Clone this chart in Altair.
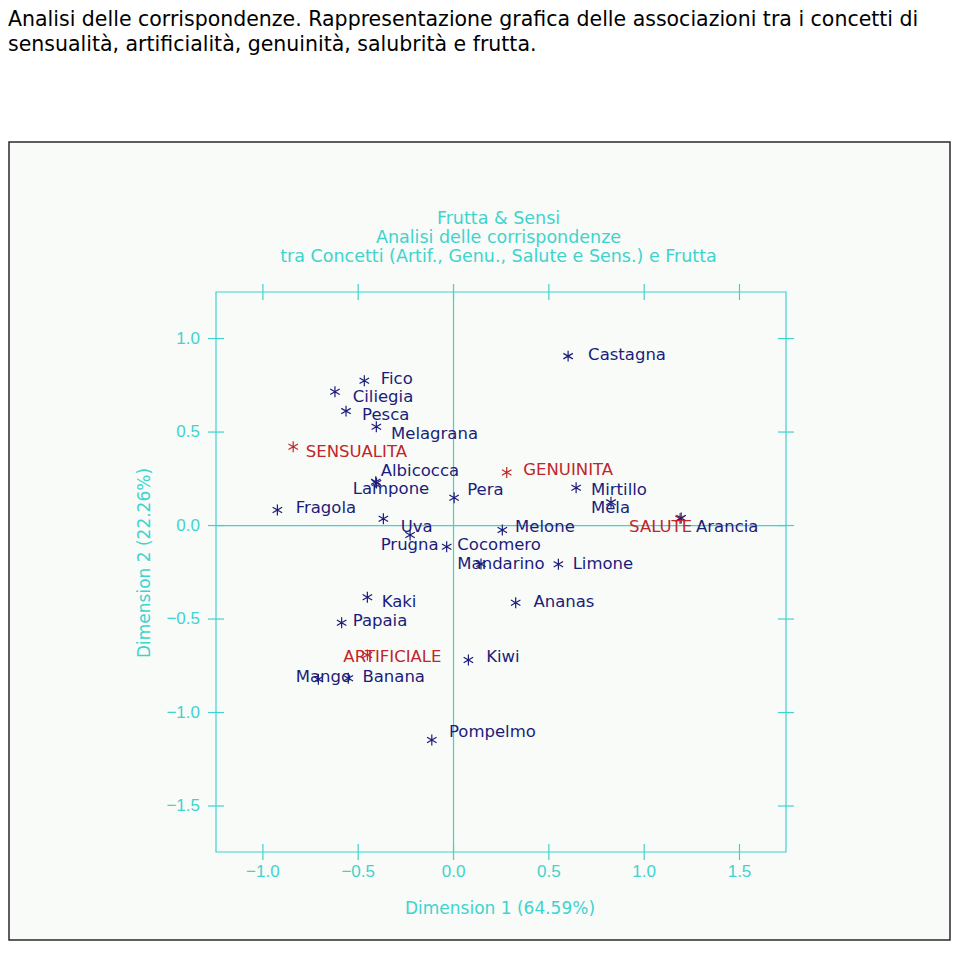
import altair as alt
import pandas as pd

# ---------------- data ----------------
names = ["Castagna", "Fico", "Ciliegia", "Pesca", "Melagrana", "SENSUALITA",
         "Albicocca", "Lampone", "Pera", "Fragola", "Uva", "Prugna", "Cocomero",
         "Mandarino", "Limone", "Melone", "GENUINITA", "Mirtillo", "Mela",
         "SALUTE", "Arancia", "Kaki", "Papaia", "ARTIFICIALE", "Mango",
         "Banana", "Kiwi", "Ananas", "Pompelmo"]
dim1 = [0.601, -0.468, -0.622, -0.564, -0.405, -0.841,
        -0.408, -0.404, 0.003, -0.924, -0.368, -0.228, -0.036,
        0.144, 0.550, 0.256, 0.279, 0.643, 0.826,
        1.188, 1.194, -0.452, -0.587, -0.452, -0.709,
        -0.552, 0.078, 0.326, -0.114]
dim2 = [0.906, 0.774, 0.716, 0.612, 0.528, 0.421,
        0.234, 0.227, 0.149, 0.083, 0.036, -0.051, -0.113,
        -0.206, -0.207, -0.024, 0.284, 0.202, 0.124,
        0.037, 0.040, -0.384, -0.520, -0.692, -0.822,
        -0.817, -0.719, -0.413, -1.147]
# label anchor (left end of text, vertical middle) in data units
label_x = [0.706, -0.382, -0.529, -0.480, -0.328, -0.775,
           -0.382, -0.529, 0.072, -0.828, -0.277, -0.382, 0.020,
           0.020, 0.625, 0.323, 0.366, 0.721, 0.721,
           0.921, 1.272, -0.377, -0.529, -0.578, -0.828,
           -0.478, 0.171, 0.419, -0.024]
label_y = [0.911, 0.783, 0.689, 0.591, 0.489, 0.393,
           0.293, 0.194, 0.190, 0.092, -0.010, -0.104, -0.104,
           -0.207, -0.207, -0.006, 0.297, 0.190, 0.092,
           -0.008, -0.008, -0.411, -0.509, -0.705, -0.809,
           -0.809, -0.705, -0.407, -1.103]
kinds = ["Frutta", "Frutta", "Frutta", "Frutta", "Frutta", "Concetto",
         "Frutta", "Frutta", "Frutta", "Frutta", "Frutta", "Frutta", "Frutta",
         "Frutta", "Frutta", "Frutta", "Concetto", "Frutta", "Frutta",
         "Concetto", "Frutta", "Frutta", "Frutta", "Concetto", "Frutta",
         "Frutta", "Frutta", "Frutta", "Frutta"]

x_ticks = [-1.0, -0.5, 0.0, 0.5, 1.0, 1.5]
x_tick_labels = ["\u22121.0", "\u22120.5", "0.0", "0.5", "1.0", "1.5"]
y_ticks = [-1.5, -1.0, -0.5, 0.0, 0.5, 1.0]
y_tick_labels = ["\u22121.5", "\u22121.0", "\u22120.5", "0.0", "0.5", "1.0"]
x_domain = [-1.246, 1.744]
y_domain = [-1.746, 1.249]

page_title = ["Analisi delle corrispondenze. Rappresentazione grafica delle associazioni tra i concetti di",
              "sensualità, artificialità, genuinità, salubrità e frutta."]
inner_title = ["Frutta & Sensi", "Analisi delle corrispondenze",
               "tra Concetti (Artif., Genu., Salute e Sens.) e Frutta"]
x_title = "Dimension 1 (64.59%)"
y_title = "Dimension 2 (22.26%)"

# ---------------- style ----------------
CYAN = "#3fd3cf"
NAVY = "#1c1c7a"
RED = "#c0262a"
FONT = "DejaVu Sans"
W, H = 570, 560

pts = pd.DataFrame({"name": names, "d1": dim1, "d2": dim2,
                    "lx": label_x, "ly": label_y, "kind": kinds})
xt = pd.DataFrame({"v": x_ticks, "lab": x_tick_labels})
yt = pd.DataFrame({"v": y_ticks, "lab": y_tick_labels})
one = pd.DataFrame({"v": [0.0]})

xs = alt.Scale(domain=x_domain, nice=False, zero=False)
ys = alt.Scale(domain=y_domain, nice=False, zero=False)
col = alt.Color("kind:N", scale=alt.Scale(domain=["Frutta", "Concetto"], range=[NAVY, RED]), legend=None)

base = alt.Chart(one)

box = base.mark_rect(fill="#f8fbf7", stroke="#2a2a2a", strokeWidth=1.5).encode(
    x=alt.value(-207), x2=alt.value(734), y=alt.value(-150), y2=alt.value(648))
frame = base.mark_rect(fillOpacity=0, stroke=CYAN, strokeWidth=1.2).encode(
    x=alt.value(0), x2=alt.value(W), y=alt.value(0), y2=alt.value(H))

vzero = base.mark_rule(color=CYAN, strokeWidth=1.2).encode(x=alt.X("v:Q", scale=xs, axis=None))
hzero = base.mark_rule(color=CYAN, strokeWidth=1.2).encode(y=alt.Y("v:Q", scale=ys, axis=None))

xt_base = alt.Chart(xt)
yt_base = alt.Chart(yt)
xtick_top = xt_base.mark_rule(color=CYAN, strokeWidth=1.2).encode(
    x=alt.X("v:Q", scale=xs, axis=None), y=alt.value(-8), y2=alt.value(8))
xtick_bot = xt_base.mark_rule(color=CYAN, strokeWidth=1.2).encode(
    x=alt.X("v:Q", scale=xs, axis=None), y=alt.value(H - 8), y2=alt.value(H + 8))
ytick_l = yt_base.mark_rule(color=CYAN, strokeWidth=1.2).encode(
    y=alt.Y("v:Q", scale=ys, axis=None), x=alt.value(-8), x2=alt.value(8))
ytick_r = yt_base.mark_rule(color=CYAN, strokeWidth=1.2).encode(
    y=alt.Y("v:Q", scale=ys, axis=None), x=alt.value(W - 8), x2=alt.value(W + 8))

xlab = xt_base.mark_text(color=CYAN, font="Liberation Sans", fontSize=17, align="center",
                         baseline="middle").encode(
    x=alt.X("v:Q", scale=xs, axis=None), y=alt.value(H + 20), text="lab:N")
ylab = yt_base.mark_text(color=CYAN, font="Liberation Sans", fontSize=17, align="right",
                         baseline="middle").encode(
    y=alt.Y("v:Q", scale=ys, axis=None), x=alt.value(-16), text="lab:N")

xtitle = base.mark_text(text=x_title, color=CYAN, font=FONT, fontSize=17, align="center",
                        baseline="middle").encode(x=alt.value(284), y=alt.value(617))
ytitle = base.mark_text(text=y_title, color=CYAN, font=FONT, fontSize=17, align="center",
                        baseline="middle", angle=270).encode(x=alt.value(-71), y=alt.value(271))
ititle = base.mark_text(text=inner_title, color=CYAN, font=FONT, fontSize=17.5, align="center",
                        baseline="alphabetic", lineHeight=19).encode(
    x=alt.value(282.5), y=alt.value(-68))
ptitle = base.mark_text(text=page_title, color="#000000", font=FONT, fontSize=20.5, align="left",
                        baseline="alphabetic", lineHeight=25).encode(
    x=alt.value(-208), y=alt.value(-266))

STAR = "M0,-1L0,1M-0.866,-0.5L0.866,0.5M-0.866,0.5L0.866,-0.5"
stars = alt.Chart(pts).mark_point(shape=STAR, size=120, strokeWidth=1.2, filled=False,
                                  opacity=1).encode(
    x=alt.X("d1:Q", scale=xs, axis=None), y=alt.Y("d2:Q", scale=ys, axis=None), color=col)
labels = alt.Chart(pts).mark_text(font=FONT, fontSize=16.5, align="left", baseline="middle").encode(
    x=alt.X("lx:Q", scale=xs, axis=None), y=alt.Y("ly:Q", scale=ys, axis=None),
    text="name:N", color=col)

chart = alt.layer(box, frame, vzero, hzero, xtick_top, xtick_bot, ytick_l, ytick_r,
                  xlab, ylab, xtitle, ytitle, ititle, ptitle, stars, labels).properties(
    width=W, height=H, autosize="none",
    padding={"left": 208, "top": 284, "right": 166, "bottom": 90},
    background="#ffffff",
).configure_view(stroke=None)

chart.save("out.html", embed_options={"renderer": "svg", "actions": False})
